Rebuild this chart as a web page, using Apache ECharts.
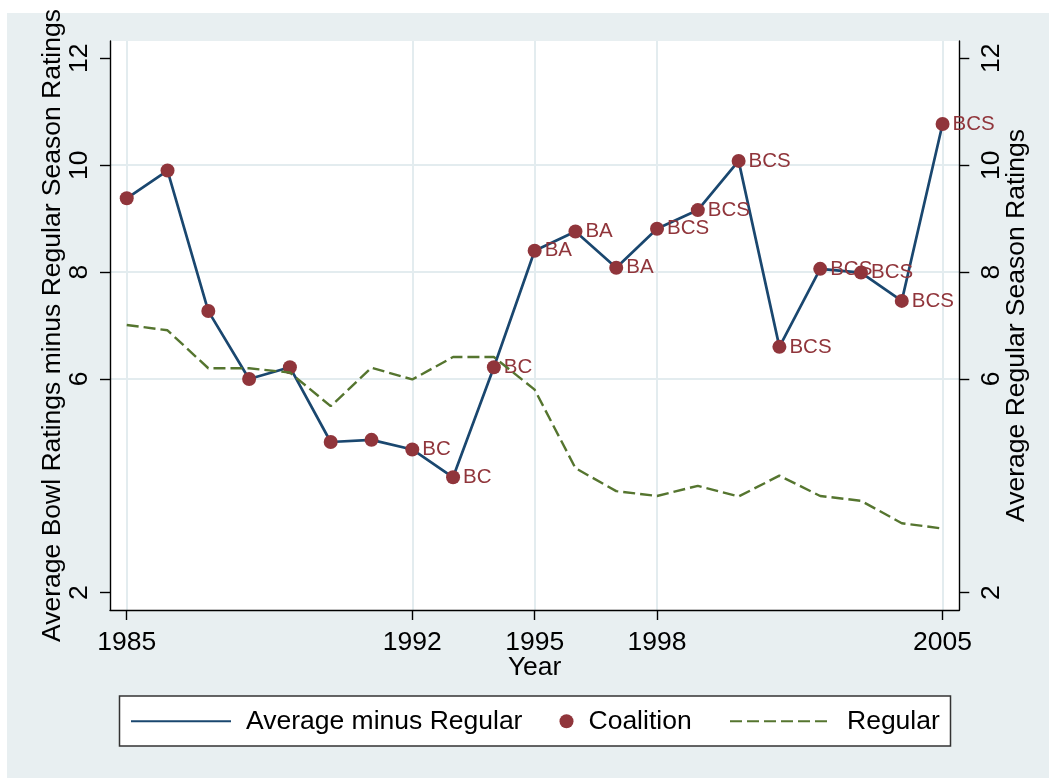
<!DOCTYPE html>
<html><head><meta charset="utf-8">
<script src="https://cdn.jsdelivr.net/npm/echarts@6/dist/echarts.min.js"></script>
<style>
html,body{margin:0;padding:0;background:#ffffff;}
#bg{position:absolute;left:7px;top:13px;width:1042px;height:765px;background:#E8EFF1;}
#chart{position:absolute;left:0;top:0;width:1049px;height:778px;}
</style></head><body>
<div id="bg"></div><div id="chart"></div>
<script>
const years = [1985,1986,1987,1988,1989,1990,1991,1992,1993,1994,1995,1996,1997,1998,1999,2000,2001,2002,2003,2004,2005];
const avgMinusRegular = [9.38,9.90,7.27,6.00,6.22,4.82,4.86,4.68,4.16,6.22,8.40,8.76,8.08,8.81,9.16,10.08,6.60,8.06,7.99,7.46,10.77];
const regular = [7.01,6.91,6.20,6.20,6.12,5.49,6.21,5.99,6.41,6.41,5.80,4.33,3.90,3.81,4.00,3.80,4.19,3.81,3.72,3.30,3.20];
const coalitionLabels = ['','','','','','','','BC','BC','BC','BA','BA','BA','BCS','BCS','BCS','BCS','BCS','BCS','BCS','BCS'];
const xTicks = [1985,1992,1995,1998,2005];
const yTicks = [2,6,8,10,12];
const yGrid = [6,8,10];

const FONT = "'Liberation Sans', Arial, Helvetica, sans-serif";
const NAVY = '#1A476F', MAROON = '#90353B', GREEN = '#55752F';
const GRIDC = '#E3ECEF';

const avgData = years.map((y,i)=>[y, avgMinusRegular[i]]);
const regData = years.map((y,i)=>[y, regular[i]]);

const chart = echarts.init(document.getElementById('chart'), null, {renderer:'canvas'});
const yBase = {
  type:'value', min:1.676, max:12.324,
  axisLine:{show:true, onZero:false, lineStyle:{color:'#000', width:1.4}},
  axisTick:{show:true, length:10, customValues:yTicks, lineStyle:{color:'#000', width:1.4}},
  axisLabel:{show:true, customValues:yTicks, rotate:90, fontSize:26.5, fontFamily:FONT, color:'#000'},
  splitLine:{show:false},
  nameLocation:'middle', nameRotate:90,
  nameTextStyle:{fontSize:26.5, fontFamily:FONT, color:'#000'}
};
const legendText = {fontSize:26.5, fontFamily:FONT, color:'#000', padding:[0,0,0,10]};
const option = {
  animation:false,
  backgroundColor:'transparent',
  textStyle:{fontFamily:FONT},
  grid:{left:110, top:41, right:89.7, bottom:168, show:true, backgroundColor:'#fff', borderWidth:0, containLabel:false, outerBoundsMode:'none'},
  xAxis:{
    type:'value', min:1984.59, max:2005.41,
    axisLine:{show:true, onZero:false, lineStyle:{color:'#000', width:1.4}},
    axisTick:{show:true, length:10, customValues:xTicks, lineStyle:{color:'#000', width:1.4}},
    axisLabel:{customValues:xTicks, fontSize:26.5, fontFamily:FONT, color:'#000', margin:19.5, formatter:v=>String(v)},
    splitLine:{show:true, lineStyle:{color:GRIDC, width:2}},
    name:'Year', nameLocation:'middle', nameGap:44, nameMoveOverlap:false,
    nameTextStyle:{fontSize:26.5, fontFamily:FONT, color:'#000'}
  },
  yAxis:[
    Object.assign({}, yBase, {position:'left', name:'Average Bowl Ratings minus Regular Season Ratings', nameGap:44, nameMoveOverlap:false,
      axisLabel:Object.assign({}, yBase.axisLabel, {margin:16.7})}),
    Object.assign({}, yBase, {position:'right', name:'Average Regular Season Ratings', nameGap:43.5, nameMoveOverlap:false,
      axisLabel:Object.assign({}, yBase.axisLabel, {margin:18.5})}),
    {type:'value', min:1.676, max:12.324, position:'left', show:true,
      axisLine:{show:false}, axisLabel:{show:false},
      axisTick:{show:false, customValues:yGrid},
      splitLine:{show:true, lineStyle:{color:GRIDC, width:2}}}
  ],
  legend:[
    {data:['Average minus Regular'], left:130, top:707.75, padding:0, itemWidth:100, itemHeight:14, selectedMode:false,
      itemStyle:{opacity:0}, textStyle:legendText},
    {data:['Coalition'], left:559.5, top:707.75, padding:0, itemWidth:14, itemHeight:14, selectedMode:false,
      textStyle:legendText},
    {data:['Regular'], left:729, top:707.75, padding:0, itemWidth:102, itemHeight:14, selectedMode:false,
      itemStyle:{opacity:0}, textStyle:legendText}
  ],
  graphic:[
    {type:'rect', shape:{x:119.5, y:696, width:831, height:50}, style:{fill:'#fff', stroke:'#333', lineWidth:1.5}, z:0}
  ],
  series:[
    {name:'Average minus Regular', type:'line', data:avgData, yAxisIndex:0, symbol:'none',
      lineStyle:{color:NAVY, width:2.7}, itemStyle:{color:NAVY}, z:2},
    {name:'Coalition', type:'scatter', data:avgData, yAxisIndex:0, symbol:'circle', symbolSize:14,
      itemStyle:{color:MAROON, opacity:1}, z:3,
      label:{show:true, position:'right', distance:3, fontSize:20.5, fontFamily:FONT, color:MAROON,
        formatter:p=>coalitionLabels[p.dataIndex]}},
    {name:'Regular', type:'line', data:regData, yAxisIndex:1, symbol:'none',
      lineStyle:{color:GREEN, width:2.4, type:[12,5]}, itemStyle:{color:GREEN}, z:4}
  ]
};
chart.setOption(option);
</script>
</body></html>
